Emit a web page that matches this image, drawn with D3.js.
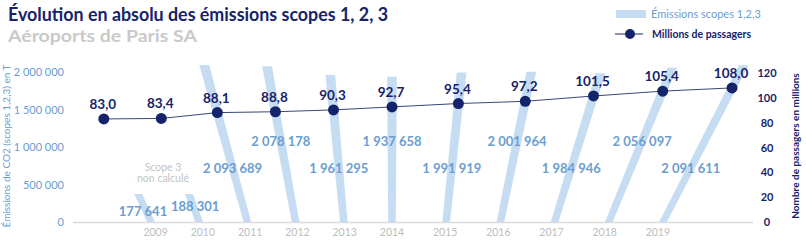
<!DOCTYPE html>
<html>
<head>
<meta charset="utf-8">
<script src="https://cdn.jsdelivr.net/npm/d3@7"></script>
<style>
  body { margin: 0; background: #fff; }
  text { font-family: Lato, "Noto Sans", sans-serif; }
</style>
</head>
<body>
<div id="chart"></div>
<script>
// data
const years = [2009, 2010, 2011, 2012, 2013, 2014, 2015, 2016, 2017, 2018, 2019];
const emissions = [177641, 188301, 2093689, 2078178, 1961295, 1937658, 1991919, 2001964, 1984946, 2056097, 2091611];
const passengers = [83.0, 83.4, 88.1, 88.8, 90.3, 92.7, 95.4, 97.2, 101.5, 105.4, 108.0];
const leftTicks = [0, 500000, 1000000, 1500000, 2000000];
const rightTicks = [0, 20, 40, 60, 80, 100, 120];

const W = 806, H = 247;
const navy = "#15246a", lightBlue = "#c6dcf2", midBlue = "#6b9dd0", grey = "#bdbdbd";

const svg = d3.select("#chart").append("svg")
  .attr("width", W).attr("height", H);

const base = 222;
const x = d3.scaleLinear().domain([2009, 2014, 2019]).range([151, 392, 663]);
const yL = d3.scaleLinear().domain([0, 2000000]).range([base, 72]);
const yR = d3.scaleLinear().domain([0, 120]).range([base, 73]);

// the plot is seen in perspective: wider at the top than at the baseline
const cx = 392, k = 0.0019;
function warp(px, py) { return cx + (px - cx) * (1 + k * (base - py)); }

const fmt = v => d3.format(",")(v).replace(/,/g, " ");
const fmt1 = v => d3.format(".1f")(v).replace(".", ",");

// titles
svg.append("text").attr("x", 8).attr("y", 21)
  .attr("font-size", 19).attr("font-weight", 700).attr("fill", navy)
  .attr("textLength", 380).attr("lengthAdjust", "spacingAndGlyphs")
  .text("Évolution en absolu des émissions scopes 1, 2, 3");
svg.append("text").attr("x", 8).attr("y", 42)
  .attr("font-size", 17).attr("font-weight", 700).attr("fill", "#c9c9c9")
  .attr("textLength", 189).attr("lengthAdjust", "spacingAndGlyphs")
  .text("Aéroports de Paris SA");

// legend
svg.append("rect").attr("x", 616).attr("y", 10).attr("width", 30).attr("height", 8).attr("fill", lightBlue);
svg.append("text").attr("x", 651).attr("y", 18).attr("font-size", 11).attr("fill", midBlue)
  .text("Émissions scopes 1,2,3");
svg.append("line").attr("x1", 615).attr("x2", 643).attr("y1", 34).attr("y2", 34).attr("stroke", navy).attr("stroke-width", 1);
svg.append("circle").attr("cx", 630).attr("cy", 34).attr("r", 5).attr("fill", navy);
svg.append("text").attr("x", 652).attr("y", 38).attr("font-size", 10.5).attr("font-weight", 700).attr("fill", navy)
  .text("Millions de passagers");

// baseline
svg.append("line").attr("x1", 73).attr("x2", 753).attr("y1", base + 0.5).attr("y2", base + 0.5)
  .attr("stroke", "#dcdcdc").attr("stroke-width", 1.5);

// left axis
const gl = svg.append("g").attr("transform", "translate(64,0)")
  .call(d3.axisLeft(yL).tickValues(leftTicks).tickSize(0).tickPadding(0).tickFormat(fmt));
gl.select(".domain").remove();
gl.selectAll("text").attr("font-size", 11).attr("fill", midBlue).attr("font-family", "Lato, sans-serif");
svg.append("text").attr("transform", "translate(10,146) rotate(-90)")
  .attr("text-anchor", "middle").attr("font-size", 10).attr("fill", midBlue)
  .text("Émissions de CO2 (scopes 1,2,3) en T");

// right axis
const gr = svg.append("g").attr("transform", "translate(767,0)")
  .call(d3.axisRight(yR).tickValues(rightTicks).tickSize(0).tickPadding(0));
gr.select(".domain").remove();
gr.selectAll("text").attr("text-anchor", "middle").attr("font-size", 11).attr("font-weight", 700)
  .attr("fill", navy).attr("font-family", "Lato, sans-serif");
svg.append("text").attr("transform", "translate(799,146) rotate(-90)")
  .attr("text-anchor", "middle").attr("font-size", 10).attr("font-weight", 700).attr("fill", navy)
  .text("Nombre de passagers en millions");

// x labels
svg.append("g").selectAll("text").data(years).join("text")
  .attr("x", d => warp(x(d), 232)).attr("y", 236)
  .attr("text-anchor", "middle").attr("font-size", 10.5).attr("fill", grey)
  .text(d => d);

// bars
const hw = 3.8;
const barTop = v => Math.min(yL(v), base - 28);
svg.append("g").selectAll("polygon").data(years).join("polygon")
  .attr("fill", lightBlue)
  .attr("points", (d, i) => {
    const t = barTop(emissions[i]), c = x(d);
    return [[warp(c - hw, base), base], [warp(c + hw, base), base],
            [warp(c + hw, t), t], [warp(c - hw, t), t]].join(" ");
  });

// value labels
svg.append("g").selectAll("text").data(years).join("text")
  .each(function (d, i) {
    const v = emissions[i];
    let ly, lx;
    if (v < 1000000) { ly = barTop(v) + 22 - i * 5; lx = x(d) - 8 + i * 4; }
    else { ly = i % 2 === 0 ? 173 : 146; lx = warp(x(d), ly - 5); }
    d3.select(this).attr("x", lx).attr("y", ly);
  })
  .attr("text-anchor", "middle").attr("font-size", 13).attr("font-weight", 700).attr("fill", midBlue)
  .text((d, i) => fmt(emissions[i]));

svg.append("text").attr("x", 163).attr("y", 171).attr("text-anchor", "middle")
  .attr("font-size", 10.5).attr("fill", "#c3c3c3").text("Scope 3");
svg.append("text").attr("x", 163).attr("y", 182).attr("text-anchor", "middle")
  .attr("font-size", 10.5).attr("fill", "#c3c3c3").text("non calculé");

// passenger line
const pts = years.map((d, i) => {
  const py = yR(passengers[i]);
  return [warp(x(d), py), py];
});
svg.append("path").attr("d", d3.line()(pts)).attr("fill", "none")
  .attr("stroke", "#3a4677").attr("stroke-width", 1);
svg.append("g").selectAll("circle").data(pts).join("circle")
  .attr("cx", d => d[0]).attr("cy", d => d[1]).attr("r", 5.5).attr("fill", navy);
svg.append("g").selectAll("text").data(pts).join("text")
  .attr("x", d => d[0] - 1).attr("y", d => d[1] - 10)
  .attr("text-anchor", "middle").attr("font-size", 13.5).attr("font-weight", 700).attr("fill", navy)
  .text((d, i) => fmt1(passengers[i]));
</script>
</body>
</html>
